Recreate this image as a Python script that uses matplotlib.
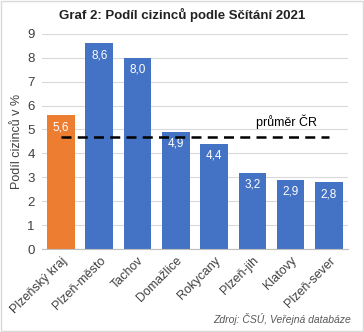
import matplotlib.pyplot as plt

# data
kraje = ["Plzeňský kraj", "Plzeň-město", "Tachov", "Domažlice",
         "Rokycany", "Plzeň-jih", "Klatovy", "Plzeň-sever"]
podil = [5.6, 8.6, 8.0, 4.9, 4.4, 3.2, 2.9, 2.8]
prumer_cr = 4.7

plt.rcParams['font.family'] = ['Liberation Sans', 'DejaVu Sans']

fig = plt.figure(figsize=(3.64, 3.32), dpi=100)
ax = fig.add_axes([0.115, 0.25, 0.841, 0.648])

colors = ['#ED7D31'] + ['#4472C4'] * (len(kraje) - 1)
x = range(len(kraje))
bars = ax.bar(x, podil, width=0.72, color=colors, zorder=2)

for b, v in zip(bars, podil):
    ax.text(b.get_x() + b.get_width() / 2, v - 0.25, f"{v:.1f}".replace('.', ','),
            ha='center', va='top', color='white', fontsize=8.5, zorder=3)

ax.plot([0, len(kraje) - 1], [prumer_cr, prumer_cr], color='black', lw=1.8,
        ls=(0, (4, 2.5)), zorder=4)
ax.text(5.9, prumer_cr + 0.3, "průměr ČR", ha='center', va='bottom', fontsize=9)

ax.set_xlim(-0.5, len(kraje) - 0.5)
ax.set_ylim(0, 9)
ax.set_yticks(range(10))
ax.set_xticks(list(x))
ax.set_xticklabels(kraje, rotation=45, ha='right', rotation_mode='anchor')
ax.tick_params(length=0, labelsize=9, colors='#404040')
ax.tick_params(axis='y', labelsize=9.5, pad=5)
ax.tick_params(axis='x', pad=4)
ax.grid(axis='y', color='#D9D9D9', lw=0.8, zorder=0)
for s in ['top', 'right', 'left']:
    ax.spines[s].set_visible(False)
ax.spines['bottom'].set_color('#BFBFBF')
ax.set_ylabel("Podíl cizinců v %", fontsize=9, color='#404040', labelpad=3)

fig.text(0.5, 0.955, "Graf 2: Podíl cizinců podle Sčítání 2021", ha='center',
         va='center', fontsize=9.5, fontweight='bold', color='#222222')
fig.text(0.965, 0.04, "Zdroj: ČSÚ, Veřejná databáze", ha='right', va='center',
         fontsize=7.5, style='italic', color='#595959')

fig.patches.append(plt.Rectangle((0.002, 0.002), 0.996, 0.996, transform=fig.transFigure,
                                 fill=False, edgecolor='#D9D9D9', lw=1))

fig.savefig("out.png", dpi=100)
